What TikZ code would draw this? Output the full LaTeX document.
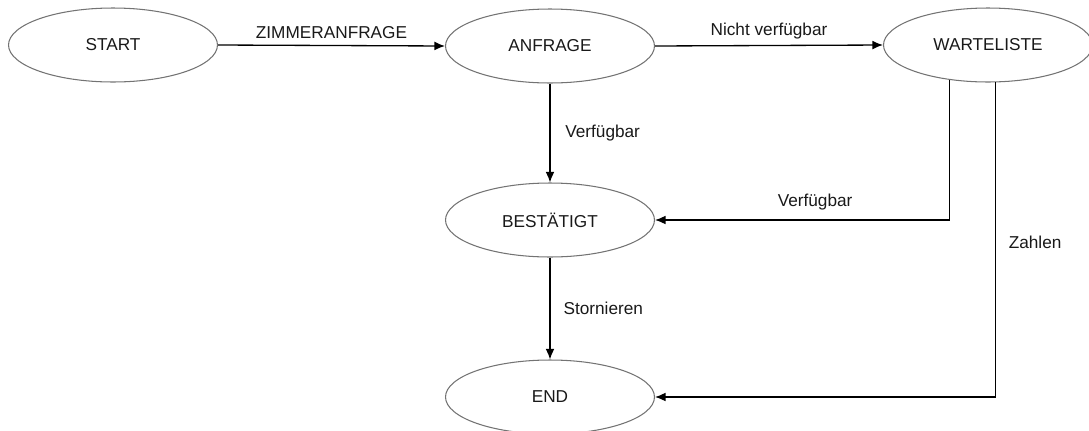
\documentclass[tikz,border=0pt]{standalone}
\usepackage{fontspec}
\setmainfont{Liberation Sans}
\usetikzlibrary{shapes.geometric,arrows.meta}

\definecolor{rand}{rgb}{0.45, 0.45, 0.45}
\definecolor{schrift}{rgb}{0.1, 0.1, 0.1}

\tikzset{
  zustand/.style={ellipse, draw=rand, line width=0.6pt, minimum width=4.18cm,
    minimum height=1.48cm, inner sep=0pt, text=schrift,
    font=\fontsize{9.8}{11}\selectfont},
  pfeil/.style={->, line width=0.75pt, color=black},
  marke/.style={text=schrift, font=\fontsize{9.8}{11}\selectfont}
}

\begin{document}
\begin{tikzpicture}[x=0.02cm, y=-0.02cm, >={Latex[length=6pt,width=5pt]}]
        \useasboundingbox (0, 0) rectangle (1089, 430);

        % zustaende
        \node[zustand] (start) at (113, 45) {START};
        \node[zustand] (anfrage) at (550, 46) {ANFRAGE};
        \node[zustand] (warteliste) at (988, 45) {WARTELISTE};
        \node[zustand] (bestaetigt) at (550, 220) {BESTÄTIGT};
        \node[zustand] (ende) at (550, 397) {END};

        % uebergaenge
        \draw[pfeil] (start.east) -- (anfrage.west)
            node[midway, above, marke] {ZIMMERANFRAGE};
        \draw[pfeil] (anfrage.east) -- (warteliste.west)
            node[midway, above, marke] {Nicht verfügbar};
        \draw[pfeil] (anfrage.south) -- (bestaetigt.north)
            node[midway, right, xshift=5pt, marke] {Verfügbar};
        \draw[pfeil] (warteliste.222) |- (bestaetigt.east)
            node[pos=0.728, above, yshift=2pt, marke] {Verfügbar};
        \draw[pfeil] (bestaetigt.south) -- (ende.north)
            node[midway, right, xshift=4pt, marke] {Stornieren};
        \draw[pfeil] (warteliste.281) |- (ende.east)
            node[pos=0.254, right, xshift=4pt, marke] {Zahlen};
\end{tikzpicture}
\end{document}
